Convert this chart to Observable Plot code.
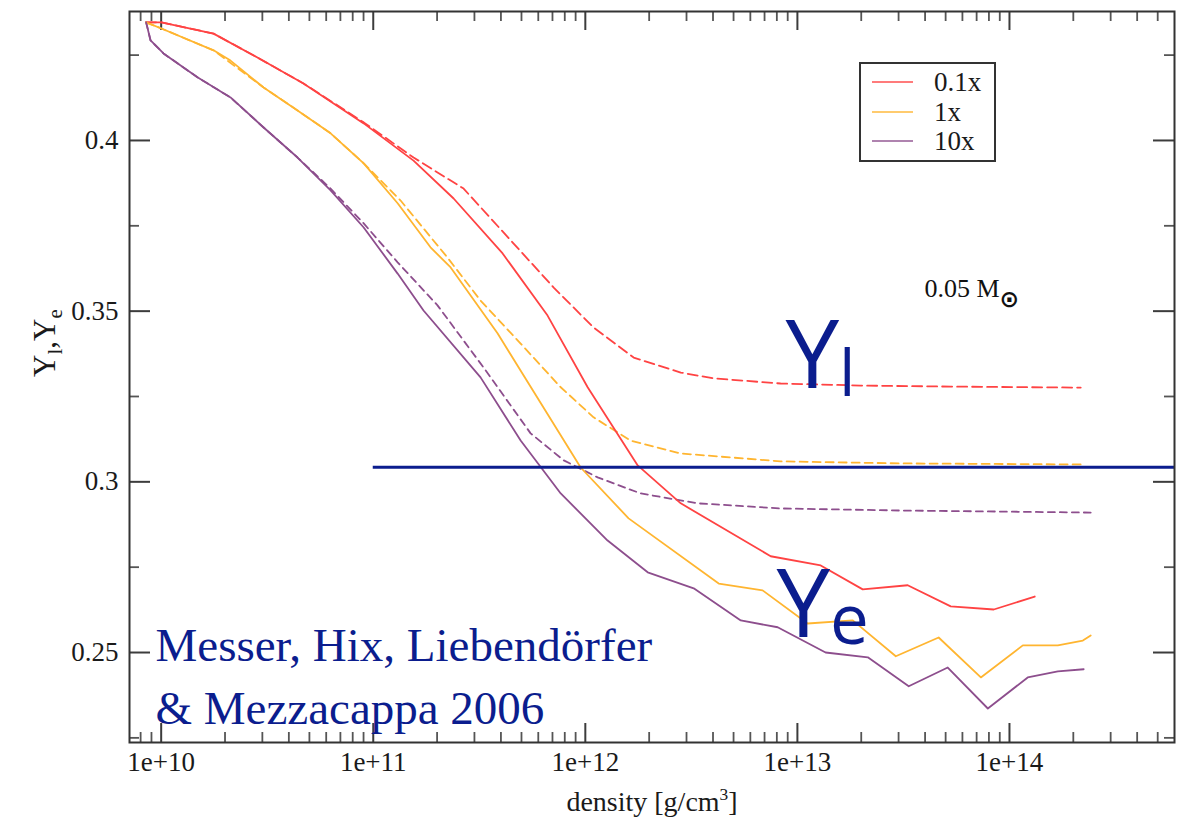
<!DOCTYPE html>
<html><head><meta charset="utf-8">
<script src="https://cdn.jsdelivr.net/npm/d3@7"></script>
<script src="https://cdn.jsdelivr.net/npm/@observablehq/plot@0.6"></script>
<style>
html,body{margin:0;padding:0;background:#fff;}
#chart{width:1184px;height:822px;overflow:hidden;}
</style></head><body><div id="chart"></div>
<script>
// ---------- data (log10 density in g/cm^3, and Y values) ----------
const seriesNames = ["0.1x", "1x", "10x"];
const seriesColors = ["#ff4343", "#ffb530", "#8d4e8d"];

// Y_e (solid)
const ye01LogRho = [9.929, 10.001, 10.247, 10.454, 10.671, 10.955, 11.190, 11.379, 11.610, 11.822, 12.011, 12.247, 12.450, 12.874, 13.110, 13.308, 13.520, 13.723, 13.926, 14.119];
const ye01 = [0.4346, 0.4346, 0.4313, 0.4243, 0.4167, 0.4050, 0.3941, 0.3830, 0.3669, 0.3487, 0.3277, 0.3048, 0.2937, 0.2782, 0.2755, 0.2685, 0.2697, 0.2635, 0.2626, 0.2664];
const ye1LogRho = [9.929, 10.001, 10.247, 10.327, 10.483, 10.643, 10.799, 10.955, 11.115, 11.270, 11.365, 11.586, 11.978, 12.204, 12.629, 12.836, 13.048, 13.261, 13.464, 13.666, 13.865, 14.063, 14.228, 14.346, 14.383];
const ye1 = [0.4346, 0.4328, 0.4264, 0.4234, 0.4155, 0.4088, 0.4021, 0.3933, 0.3816, 0.3687, 0.3628, 0.3435, 0.3042, 0.2893, 0.2702, 0.2682, 0.2585, 0.2594, 0.2489, 0.2544, 0.2427, 0.2521, 0.2521, 0.2535, 0.2550];
const ye10LogRho = [9.929, 9.950, 10.011, 10.171, 10.327, 10.483, 10.643, 10.799, 10.955, 11.115, 11.237, 11.506, 11.695, 11.884, 12.105, 12.294, 12.511, 12.733, 12.907, 13.133, 13.332, 13.525, 13.709, 13.898, 14.086, 14.228, 14.350];
const ye10 = [0.4346, 0.4293, 0.4255, 0.4185, 0.4126, 0.4038, 0.3950, 0.3854, 0.3745, 0.3610, 0.3502, 0.3306, 0.3121, 0.2966, 0.2828, 0.2735, 0.2688, 0.2594, 0.2574, 0.2500, 0.2486, 0.2401, 0.2456, 0.2336, 0.2427, 0.2445, 0.2451];

// Y_l (dashed)
const yl01LogRho = [9.929, 10.001, 10.247, 10.454, 10.671, 10.955, 11.190, 11.426, 11.662, 11.851, 12.039, 12.228, 12.450, 12.605, 12.921, 13.298, 13.723, 14.336];
const yl01 = [0.4346, 0.4346, 0.4313, 0.4243, 0.4167, 0.4053, 0.3950, 0.3859, 0.3698, 0.3569, 0.3452, 0.3364, 0.3320, 0.3303, 0.3288, 0.3282, 0.3279, 0.3276];
const yl1LogRho = [9.929, 10.001, 10.247, 10.483, 10.643, 10.799, 10.955, 11.129, 11.350, 11.506, 11.695, 11.884, 12.039, 12.213, 12.450, 12.921, 13.487, 14.336];
const yl1 = [0.4346, 0.4328, 0.4264, 0.4155, 0.4088, 0.4021, 0.3933, 0.3824, 0.3657, 0.3531, 0.3405, 0.3277, 0.3189, 0.3121, 0.3083, 0.3060, 0.3054, 0.3051];
const yl10LogRho = [9.929, 9.950, 10.011, 10.171, 10.327, 10.483, 10.643, 10.799, 10.955, 11.115, 11.303, 11.520, 11.742, 11.898, 12.058, 12.261, 12.530, 12.921, 13.487, 14.383];
const yl10 = [0.4346, 0.4293, 0.4255, 0.4185, 0.4126, 0.4038, 0.3950, 0.3859, 0.3757, 0.3643, 0.3517, 0.3335, 0.3142, 0.3063, 0.3013, 0.2966, 0.2937, 0.2922, 0.2916, 0.2910];

// reference line (blue)
const refLineY = [0.3043];
const refLineStart = 1e11;

// axes
const xDomain = [7.09e9, 6.0e14];
const yDomain = [0.22364, 0.43778];
const xMajorTicks = [1e10, 1e11, 1e12, 1e13, 1e14];
const xTickLabels = ["1e+10", "1e+11", "1e+12", "1e+13", "1e+14"];
const xMinorTicks = [8e9, 9e9,
  2e10, 3e10, 4e10, 5e10, 6e10, 7e10, 8e10, 9e10,
  2e11, 3e11, 4e11, 5e11, 6e11, 7e11, 8e11, 9e11,
  2e12, 3e12, 4e12, 5e12, 6e12, 7e12, 8e12, 9e12,
  2e13, 3e13, 4e13, 5e13, 6e13, 7e13, 8e13, 9e13,
  2e14, 3e14, 4e14, 5e14];
const yMajorTicks = [0.25, 0.3, 0.35, 0.4];
const yTickLabels = ["0.25", "0.3", "0.35", "0.4"];
const yMinorTicks = [0.225, 0.275, 0.325, 0.375, 0.425];

// ---------- build tidy tables ----------
function rows(logs, vals, series) {
  return logs.map((l, i) => ({rho: Math.pow(10, l), v: vals[i], series}));
}
const solid = [
  rows(ye01LogRho, ye01, "0.1x"),
  rows(ye1LogRho, ye1, "1x"),
  rows(ye10LogRho, ye10, "10x")
];
const dashed = [
  rows(yl01LogRho, yl01, "0.1x"),
  rows(yl1LogRho, yl1, "1x"),
  rows(yl10LogRho, yl10, "10x")
];
const dashPatterns = ["10,5", "8,5", "7,5"];

// ---------- layout ----------
const W = 1184, H = 822;
const mL = 129, mR = 10, mT = 11, mB = 80;
const fW = W - mL - mR, fH = H - mT - mB;
const navy = "#0b1d8e";
const axisInk = "#3c3c3c";
const serif = "'Liberation Serif', 'Times New Roman', serif";
const sans = "'Open Sans', 'Noto Sans', sans-serif";

const color = {domain: seriesNames, range: seriesColors};

const marks = [];
// inward ticks on all four sides
marks.push(Plot.tickX(xMajorTicks, {x: d => d, insetTop: fH - 19, stroke: axisInk, strokeWidth: 2}));
marks.push(Plot.tickX(xMajorTicks, {x: d => d, insetBottom: fH - 19, stroke: axisInk, strokeWidth: 2}));
marks.push(Plot.tickX(xMinorTicks, {x: d => d, insetTop: fH - 10, stroke: "#555", strokeWidth: 1.8}));
marks.push(Plot.tickX(xMinorTicks, {x: d => d, insetBottom: fH - 10, stroke: "#555", strokeWidth: 1.8}));
marks.push(Plot.tickY(yMajorTicks, {y: d => d, insetRight: fW - 21, stroke: axisInk, strokeWidth: 2}));
marks.push(Plot.tickY(yMajorTicks, {y: d => d, insetLeft: fW - 21, stroke: axisInk, strokeWidth: 2}));
marks.push(Plot.tickY(yMinorTicks, {y: d => d, insetRight: fW - 10, stroke: "#555", strokeWidth: 1.8}));
marks.push(Plot.tickY(yMinorTicks, {y: d => d, insetLeft: fW - 10, stroke: "#555", strokeWidth: 1.8}));

// curves
dashed.forEach((d, i) => {
  marks.push(Plot.line(d, {x: "rho", y: "v", stroke: "series", strokeWidth: 1.8, strokeDasharray: dashPatterns[i]}));
});
solid.forEach(d => {
  marks.push(Plot.line(d, {x: "rho", y: "v", stroke: "series", strokeWidth: 1.8}));
});

// blue horizontal line
marks.push(Plot.ruleY(refLineY, {y: d => d, x1: refLineStart, x2: xDomain[1], stroke: navy, strokeWidth: 3}));

marks.push(Plot.frame({stroke: "#333", strokeWidth: 2}));

// axes (labels only; ticks drawn above)
marks.push(Plot.axisX({ticks: xMajorTicks, tickSize: 0, tickPadding: 9, tickFormat: d => xTickLabels[xMajorTicks.indexOf(d)], fontSize: 27, fontFamily: serif, fill: "#1a1a1a", label: null}));
marks.push(Plot.axisY({ticks: yMajorTicks, tickSize: 0, tickPadding: 11, tickFormat: d => yTickLabels[yMajorTicks.indexOf(d)], fontSize: 27, fontFamily: serif, fill: "#1a1a1a", label: null}));

// axis titles
marks.push(Plot.text(["density [g/cm^3]"], {frameAnchor: "bottom", dy: 60, fontSize: 28, fontFamily: serif, fill: "#1a1a1a", lineAnchor: "middle"}));
marks.push(Plot.text(["Y_l,Y_e"], {frameAnchor: "left", dx: -84, rotate: -90, fontSize: 31, fontFamily: serif, fill: "#1a1a1a", lineAnchor: "middle"}));

// annotations (data coordinates)
marks.push(Plot.text(["Y_l"], {x: 8.8e12, y: 0.3274, textAnchor: "start", lineAnchor: "bottom", fontSize: 96, fontFamily: sans, fill: navy}));
marks.push(Plot.text(["Y_e"], {x: 7.96e12, y: 0.2544, textAnchor: "start", lineAnchor: "bottom", fontSize: 96, fontFamily: sans, fill: navy}));
marks.push(Plot.text(["0.05 M_⊙"], {x: 3.97e13, y: 0.3540, textAnchor: "start", lineAnchor: "bottom", fontSize: 26, fontFamily: serif, fill: "#111"}));
marks.push(Plot.text(["Messer, Hix, Liebendörfer"], {x: 9.4e9, y: 0.24766, textAnchor: "start", lineAnchor: "bottom", fontSize: 47, fontFamily: serif, fill: navy}));
marks.push(Plot.text(["& Mezzacappa 2006"], {x: 9.4e9, y: 0.2292, textAnchor: "start", lineAnchor: "bottom", fontSize: 47, fontFamily: serif, fill: navy}));

const plot = Plot.plot({
  width: W, height: H,
  marginLeft: mL, marginRight: mR, marginTop: mT, marginBottom: mB,
  x: {type: "log", domain: xDomain},
  y: {domain: yDomain},
  color,
  style: {fontFamily: serif, fontSize: "27px", background: "#fff", color: "#1a1a1a"},
  marks
});
document.getElementById("chart").append(plot);

// ---------- rich text: sub/superscripts as tspans ----------
const scriptCfg = {
  "Y_l": {scale: 0.66, sub: 0.08},
  "Y_e": {scale: 0.72, sub: 0.07},
  "Y_l,Y_e": {scale: 0.68, sub: 0.22},
  "0.05 M_⊙": {scale: 0.9, sub: 0.36, bold: true, family: "'DejaVu Sans', sans-serif"},
  "density [g/cm^3]": {scale: 0.62, sup: 0.4}
};
d3.select(plot).selectAll("text").each(function() {
  const s = this.textContent;
  const cfg = scriptCfg[s];
  if (!cfg) return;
  const fs = parseFloat(getComputedStyle(this).fontSize);
  const el = d3.select(this);
  el.text(null);
  let i = 0, shift = 0;
  while (i < s.length) {
    const c = s[i];
    if ((c === "_" || c === "^") && i + 1 < s.length) {
      const d = c === "_" ? fs * (cfg.sub || 0.2) : -fs * (cfg.sup || 0.4);
      const t = el.append("tspan").attr("dy", d - shift).attr("font-size", fs * cfg.scale).text(s[i + 1]);
      if (cfg.bold && c === "_") t.attr("font-weight", "bold").attr("font-family", cfg.family);
      shift = d; i += 2;
    } else {
      let j = i;
      while (j < s.length && s[j] !== "_" && s[j] !== "^") j++;
      el.append("tspan").attr("dy", -shift).text(s.slice(i, j));
      shift = 0; i = j;
    }
  }
});

// ---------- legend (line swatches inside a box) ----------
const svg = d3.select(plot);
const lg = svg.append("g").attr("class", "legend");
lg.append("rect").attr("x", 860).attr("y", 63).attr("width", 135).attr("height", 98)
  .attr("fill", "#fff").attr("stroke", "#333").attr("stroke-width", 2);
const legendRowsY = [82, 112, 141];
seriesNames.forEach((name, i) => {
  lg.append("line").attr("x1", 872).attr("x2", 913).attr("y1", legendRowsY[i]).attr("y2", legendRowsY[i])
    .attr("stroke", seriesColors[i]).attr("stroke-width", 2).attr("stroke-opacity", 0.7);
  lg.append("text").attr("x", 934).attr("y", legendRowsY[i]).attr("dy", "0.33em")
    .attr("text-anchor", "start")
    .attr("font-family", serif).attr("font-size", 27).attr("fill", "#1a1a1a").text(name);
});
</script>
</body></html>
